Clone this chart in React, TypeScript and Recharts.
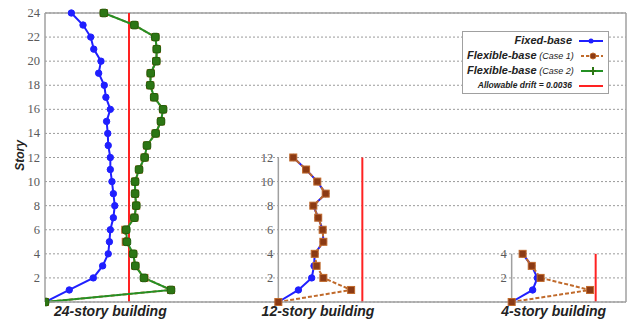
import React from 'react';
import {
  ComposedChart,
  Line,
  XAxis,
  YAxis,
  CartesianGrid,
  ReferenceLine,
  ReferenceDot,
  Legend,
} from 'recharts';

// story levels for each building
const stories24 = [0, 1, 2, 3, 4, 5, 6, 7, 8, 9, 10, 11, 12, 13, 14, 15, 16, 17, 18, 19, 20, 21, 22, 23, 24];
const stories12 = [0, 1, 2, 3, 4, 5, 6, 7, 8, 9, 10, 11, 12];
const stories4 = [0, 1, 2, 3, 4];

// inter-story drift ratios
const fixed24 = [
  0, 0.00104, 0.00207, 0.00247, 0.00271, 0.00276, 0.0028, 0.00293, 0.00299, 0.00293, 0.00287, 0.0028, 0.0028,
  0.00271, 0.00269, 0.00264, 0.0028, 0.00261, 0.00254, 0.0023, 0.0024, 0.00209, 0.00196, 0.00163, 0.00113,
];
const case1_24 = [
  0, 0.0054, 0.00426, 0.00387, 0.00378, 0.00346, 0.00344, 0.00383, 0.00391, 0.00386, 0.00386, 0.00403, 0.00427,
  0.00437, 0.00474, 0.00497, 0.00506, 0.00468, 0.00451, 0.00453, 0.00477, 0.00479, 0.00473, 0.00383, 0.00252,
];
const case2_24 = [
  0, 0.0054, 0.00424, 0.00387, 0.00378, 0.00351, 0.00348, 0.00383, 0.00391, 0.00386, 0.00386, 0.00403, 0.00427,
  0.00437, 0.00474, 0.00497, 0.00506, 0.00468, 0.00451, 0.00453, 0.00477, 0.00479, 0.00473, 0.00383, 0.00252,
];
const fixed12 = [0, 0.00086, 0.00143, 0.00153, 0.00156, 0.00193, 0.0019, 0.00171, 0.0015, 0.00203, 0.00167, 0.00119, 0.00064];
const case1_12 = [0, 0.00312, 0.00193, 0.00164, 0.00156, 0.00193, 0.0019, 0.00171, 0.0015, 0.00203, 0.00167, 0.00119, 0.00064];
const fixed4 = [0, 0.0009, 0.0011, 0.00086, 0.00047];
const case1_4 = [0, 0.00336, 0.00124, 0.00086, 0.00047];

const buildingNames = ['24-story building', '12-story building', '4-story building'];
const panelOffsets = [0, 0.01, 0.02];
const nameCenters = [0.0028, 0.0117, 0.0218];
const allowableDrift = 0.0036;
const xMax = 0.0249;

const yTicks = [2, 4, 6, 8, 10, 12, 14, 16, 18, 20, 22, 24];
const ticks12 = [2, 4, 6, 8, 10, 12];
const ticks4 = [2, 4];

const BLUE = '#1f1fff';
const BROWN = '#c06a2b';
const BROWN_DARK = '#8b3a14';
const GREEN = '#249024';
const GREEN_DARK = '#2c7614';
const RED = '#ff2222';
const FRAME = '#a0a0a0';
const SERIF = '"Liberation Serif", "Times New Roman", serif';
const SANS = '"Liberation Sans", Arial, sans-serif';

const toPoints = (stories: number[], drifts: number[], offset: number) =>
  stories.map((s, i) => ({ x: offset + drifts[i], y: s }));

// serif grey numbers like the original's axes
const NumText = ({ x, y, value }: { x: number; y: number; value: any }) => (
  <text
    x={x}
    y={y}
    textAnchor="end"
    dominantBaseline="central"
    style={{ fontFamily: SERIF, fontSize: 12.5, fill: '#5a5a5a' }}
  >
    {value}
  </text>
);

const YTick = (p: any) => <NumText x={p.x} y={p.y} value={p.payload.value} />;

const innerTickLabel = (value: number) => (props: any) => {
  const vb = props.viewBox || {};
  const cx = vb.cx ?? vb.x ?? 0;
  const cy = vb.cy ?? vb.y ?? 0;
  return <NumText x={cx - 5} y={cy} value={value} />;
};

const BlueDot = (p: any) =>
  p.cx == null ? null : <circle key={`b-${p.index}`} cx={p.cx} cy={p.cy} r={3.2} fill={BLUE} stroke={BLUE} />;

const BrownDot = (p: any) =>
  p.cx == null ? null : (
    <rect key={`o-${p.index}`} x={p.cx - 3.5} y={p.cy - 3.5} width={7} height={7} fill={BROWN_DARK} stroke={BROWN} strokeWidth={1} />
  );

const GreenDot = (p: any) =>
  p.cx == null ? null : (
    <rect key={`g-${p.index}`} x={p.cx - 3.8} y={p.cy - 3.8} width={7.6} height={7.6} rx={2} fill={GREEN_DARK} stroke="#1e5f0c" strokeWidth={1} />
  );

const legendItems = [
  { name: 'Fixed-base', note: '', color: BLUE, dash: undefined as string | undefined, marker: 'circle', size: 11 },
  { name: 'Flexible-base', note: ' (Case 1)', color: BROWN, dash: '3 2', marker: 'square', size: 11 },
  { name: 'Flexible-base', note: ' (Case 2)', color: GREEN, dash: undefined, marker: 'plus', size: 11 },
  { name: 'Allowable drift = 0.0036', note: '', color: RED, dash: undefined, marker: 'none', size: 8.5 },
];

const LegendBox = () => (
  <div
    style={{
      border: `1px solid ${FRAME}`,
      background: '#fff',
      padding: '1px 5px 2px 4px',
      fontFamily: SANS,
      fontStyle: 'italic',
      fontWeight: 'bold',
      color: '#222',
      boxSizing: 'border-box',
      height: 63,
    }}
  >
    {legendItems.map((it, i) => (
      <div key={i} style={{ display: 'flex', alignItems: 'center', height: 15, lineHeight: '15px' }}>
        <span style={{ flex: 1, textAlign: 'right', fontSize: it.size, whiteSpace: 'nowrap' }}>
          {it.name}
          {it.note && <span style={{ fontSize: 9, fontWeight: 'normal' }}>{it.note}</span>}
        </span>
        <svg width={24} height={12} style={{ marginLeft: 7 }}>
          <line x1={0} y1={6} x2={24} y2={6} stroke={it.color} strokeWidth={2} strokeDasharray={it.dash} />
          {it.marker === 'circle' && <circle cx={12} cy={6} r={2.5} fill={it.color} />}
          {it.marker === 'square' && <circle cx={12} cy={6} r={3} fill={BROWN_DARK} stroke={BROWN} />}
          {it.marker === 'plus' && (
            <g stroke={GREEN_DARK} strokeWidth={2}>
              <line x1={12} y1={2} x2={12} y2={10} />
              <line x1={9} y1={6} x2={15} y2={6} />
            </g>
          )}
        </svg>
      </div>
    ))}
  </div>
);

const StoryLabel = (props: any) => {
  const vb = props.viewBox || { x: 0, y: 13, width: 45, height: 289 };
  const cx = vb.x + 20;
  const cy = vb.y + vb.height / 2 - 2;
  return (
    <text
      x={cx}
      y={cy}
      transform={`rotate(-90 ${cx} ${cy})`}
      textAnchor="middle"
      dominantBaseline="central"
      style={{ fontFamily: SANS, fontWeight: 'bold', fontStyle: 'italic', fontSize: 12, fill: '#222' }}
    >
      Story
    </text>
  );
};

export default function App() {
  const fixedSeries = [
    toPoints(stories24, fixed24, panelOffsets[0]),
    toPoints(stories12, fixed12, panelOffsets[1]),
    toPoints(stories4, fixed4, panelOffsets[2]),
  ];
  const case1Series = [
    toPoints(stories24, case1_24, panelOffsets[0]),
    toPoints(stories12, case1_12, panelOffsets[1]),
    toPoints(stories4, case1_4, panelOffsets[2]),
  ];
  const case2Data = toPoints(stories24, case2_24, panelOffsets[0]);
  const heights = [24, 12, 4];

  return (
    <div style={{ position: 'fixed', left: 0, top: 0, width: 628, height: 322, background: '#fff' }}>
      <ComposedChart width={628} height={322} margin={{ top: 13, right: 2, left: 0, bottom: 0 }}>
        <CartesianGrid vertical={false} stroke="#9a9a9a" strokeDasharray="2 2" />
        <XAxis
          type="number"
          dataKey="x"
          domain={[0, xMax]}
          allowDataOverflow
          ticks={nameCenters}
          tickFormatter={(v: number) => buildingNames[nameCenters.indexOf(v)] ?? ''}
          interval={0}
          height={20}
          axisLine={{ stroke: FRAME, strokeWidth: 1.5 }}
          tickLine={false}
          tickSize={3}
          tickMargin={1}
          tick={{ fontFamily: SANS, fontWeight: 'bold', fontStyle: 'italic', fontSize: 14, fill: '#222' }}
        />
        <YAxis
          type="number"
          domain={[0, 24]}
          ticks={yTicks}
          interval={0}
          width={45}
          axisLine={{ stroke: FRAME, strokeWidth: 1.5 }}
          tickLine={false}
          tickSize={3}
          tick={<YTick />}
          label={<StoryLabel />}
        />
        <ReferenceLine y={24} stroke={FRAME} strokeWidth={1.5} />
        <ReferenceLine x={xMax} stroke={FRAME} strokeWidth={1.5} />

        {/* inner axes for the 12- and 4-story panels */}
        {[1, 2].map((p) => (
          <ReferenceLine
            key={`ax-${p}`}
            segment={[
              { x: panelOffsets[p], y: 0 },
              { x: panelOffsets[p], y: heights[p] },
            ]}
            stroke={FRAME}
            strokeWidth={1.5}
          />
        ))}
        {ticks12.map((t) => (
          <ReferenceDot
            key={`t12-${t}`}
            x={panelOffsets[1]}
            y={t}
            r={0}
            fill="none"
            stroke="none"
            label={innerTickLabel(t)}
          />
        ))}
        {ticks4.map((t) => (
          <ReferenceDot
            key={`t4-${t}`}
            x={panelOffsets[2]}
            y={t}
            r={0}
            fill="none"
            stroke="none"
            label={innerTickLabel(t)}
          />
        ))}

        {/* allowable drift limits */}
        {panelOffsets.map((off, p) => (
          <ReferenceLine
            key={`lim-${p}`}
            segment={[
              { x: off + allowableDrift, y: 0 },
              { x: off + allowableDrift, y: heights[p] },
            ]}
            stroke={RED}
            strokeWidth={2}
          />
        ))}

        {fixedSeries.map((d, p) => (
          <Line
            key={`fixed-${p}`}
            data={d}
            dataKey="y"
            type="linear"
            stroke={BLUE}
            strokeWidth={2}
            dot={BlueDot}
            activeDot={false}
            isAnimationActive={false}
          />
        ))}
        {case1Series.map((d, p) => (
          <Line
            key={`case1-${p}`}
            data={d}
            dataKey="y"
            type="linear"
            stroke={BROWN}
            strokeWidth={2}
            strokeDasharray="4 2"
            dot={BrownDot}
            activeDot={false}
            isAnimationActive={false}
          />
        ))}
        <Line
          data={case2Data}
          dataKey="y"
          type="linear"
          stroke={GREEN}
          strokeWidth={2}
          dot={GreenDot}
          activeDot={false}
          isAnimationActive={false}
        />

        <Legend
          layout="vertical"
          align="center"
          verticalAlign="middle"
          content={<LegendBox />}
          wrapperStyle={{ left: 462, top: 31, width: 147, height: 63, right: 'auto', bottom: 'auto' }}
        />
      </ComposedChart>
    </div>
  );
}
